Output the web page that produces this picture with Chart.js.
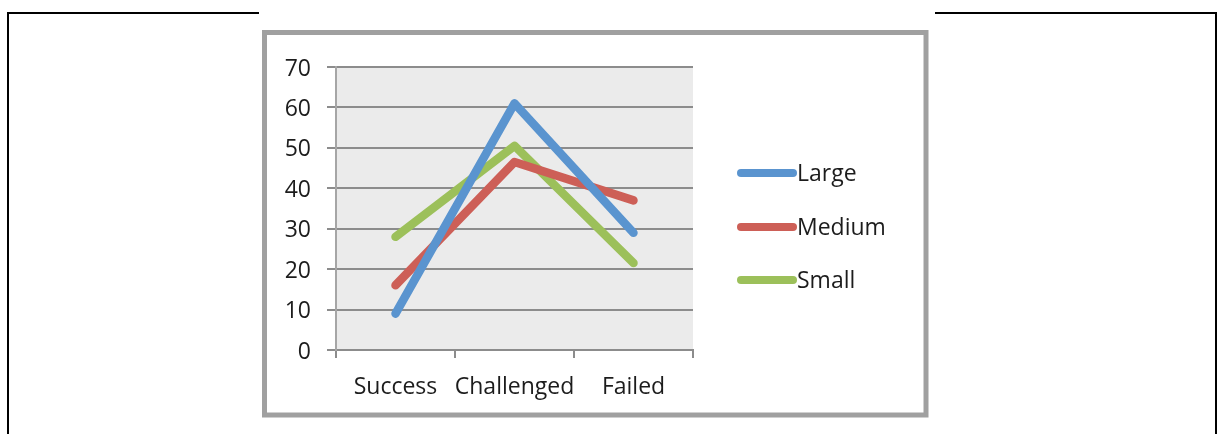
<!DOCTYPE html>
<html>
<head>
<meta charset="utf-8">
<script src="https://cdn.jsdelivr.net/npm/chart.js@4"></script>
<style>
  html, body { margin: 0; padding: 0; background: #fff; }
  #wrap { width: 1218px; height: 434px; position: relative; }
</style>
</head>
<body>
<div id="wrap"><canvas id="chart" width="1218" height="434"></canvas></div>
<script>
const categories = ["Success", "Challenged", "Failed"];
const seriesNames = ["Large", "Medium", "Small"];
const large = [9, 61, 29];
const medium = [16, 46.5, 37];
const small = [28, 50.5, 21.5];
const yTicks = [0, 10, 20, 30, 40, 50, 60, 70];

const colors = ["#5a94cf", "#cd5f57", "#9cc05a"];
const FONT = "'Open Sans', 'DejaVu Sans', sans-serif";
const TEXT = "#1c1c1c";

// page frame, grey box and plot background
const framePlugin = {
  id: "frame",
  beforeDraw(chart) {
    const ctx = chart.ctx;
    const a = chart.chartArea;
    ctx.save();
    ctx.fillStyle = "#fff";
    ctx.fillRect(0, 0, chart.width, chart.height);
    // black page lines
    ctx.strokeStyle = "#000";
    ctx.lineWidth = 2;
    ctx.beginPath();
    ctx.moveTo(8, 434); ctx.lineTo(8, 13); ctx.lineTo(259, 13);
    ctx.moveTo(935, 13); ctx.lineTo(1216, 13); ctx.lineTo(1216, 434);
    ctx.stroke();
    // grey chart border
    ctx.strokeStyle = "#a0a0a0";
    ctx.lineWidth = 5;
    ctx.strokeRect(264.5, 32.5, 661.5, 382.5);
    // plot fill
    ctx.fillStyle = "#ebebeb";
    ctx.fillRect(a.left, a.top, a.right - a.left, a.bottom - a.top);
    ctx.restore();
  },
  afterDraw(chart) {
    // legend to the right of the plot
    const ctx = chart.ctx;
    const x0 = 741, len = 52, rows = [173, 227, 280];
    ctx.save();
    chart.data.datasets.forEach((ds, i) => {
      const y = rows[i];
      ctx.strokeStyle = ds.borderColor;
      ctx.lineWidth = 8;
      ctx.lineCap = "round";
      ctx.beginPath();
      ctx.moveTo(x0, y);
      ctx.lineTo(x0 + len, y);
      ctx.stroke();
      ctx.fillStyle = TEXT;
      ctx.font = "23px " + FONT;
      ctx.textBaseline = "middle";
      ctx.fillText(ds.label, x0 + len + 4, y + 1);
    });
    ctx.restore();
  }
};

const mk = (label, data, i) => ({
  label,
  data,
  borderColor: colors[i],
  backgroundColor: colors[i],
  borderWidth: 8.5,
  borderCapStyle: "round",
  borderJoinStyle: "round",
  pointRadius: 0,
  tension: 0
});

new Chart(document.getElementById("chart"), {
  type: "line",
  data: {
    labels: categories,
    datasets: [
      mk(seriesNames[0], large, 0),
      mk(seriesNames[1], medium, 1),
      mk(seriesNames[2], small, 2)
    ]
  },
  options: {
    responsive: false,
    animation: false,
    layout: { padding: { left: 266, right: 525, top: 67, bottom: 34 } },
    plugins: { legend: { display: false }, tooltip: { enabled: false } },
    scales: {
      x: {
        offset: true,
        grid: { offset: true, drawOnChartArea: false, drawTicks: true, tickLength: 8, color: "#8c8c8c", lineWidth: 2 },
        border: { display: true, color: "#8c8c8c", width: 2 },
        ticks: { color: TEXT, font: { family: FONT, size: 23 }, padding: 16, maxRotation: 0, minRotation: 0, autoSkip: false },
        afterFit(s) { s.height = 50; }
      },
      y: {
        min: 0,
        max: 70,
        afterBuildTicks(s) { s.ticks = yTicks.map(v => ({ value: v })); },
        grid: { color: "#8c8c8c", lineWidth: 2, tickLength: 9 },
        border: { display: true, color: "#a6a6a6", width: 2 },
        ticks: { color: TEXT, font: { family: FONT, size: 23 }, padding: 16, labelOffset: 2 },
        afterFit(s) { s.width = 70; }
      }
    }
  },
  plugins: [framePlugin]
});
</script>
</body>
</html>
